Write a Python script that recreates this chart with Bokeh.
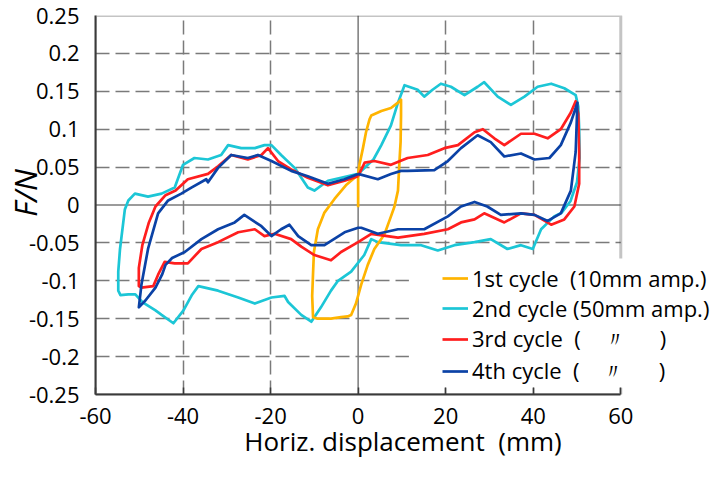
from bokeh.plotting import figure
from bokeh.models import (Range1d, FixedTicker, Span, Legend, LegendItem, BoxAnnotation)
from bokeh.embed import file_html
from bokeh.resources import INLINE

# ---------------- data ----------------
x_ticks = [-60, -40, -20, 0, 20, 40, 60]
x_tick_labels = ["-60", "-40", "-20", "0", "20", "40", "60"]
y_ticks = [0.25, 0.2, 0.15, 0.1, 0.05, 0, -0.05, -0.1, -0.15, -0.2, -0.25]
y_tick_labels = ["0.25", "0.2", "0.15", "0.1", "0.05", "0", "-0.05", "-0.1", "-0.15", "-0.2", "-0.25"]
x_grid_dashed = [-40, -20, 20, 40]
y_grid_dashed = [-0.2, -0.15, -0.1, -0.05, 0.05, 0.1, 0.15, 0.2]

series_names = ["1st cycle\u00a0\u00a0(10mm amp.)",
                "2nd cycle (50mm amp.)",
                "3rd cycle\u00a0\u00a0(\u00a0\u00a0\u00a0\u00a0\u3003\u00a0\u00a0\u00a0\u00a0\u00a0\u00a0)",
                "4th cycle\u00a0\u00a0(\u00a0\u00a0\u00a0\u00a0\u3003\u00a0\u00a0\u00a0\u00a0\u00a0\u00a0)"]

c1_x = [0, 0, 0.3, 1.1, 1.8, 2.6, 3.0, 5.3, 7.5, 9.1, 9.8, 9.8, 9.7, 9.4, 9.1, 8.3, 7.5, 6.0,
        3.7, 2.2, 0.7, -0.5, -1.6, -2.4, -3.9, -6.2, -9.2, -10.3, -10.5, -10.3, -10.1, -9.2,
        -7.7, -5.4, -2.8, -0.8, 0]
c1_y = [-0.003, 0.041, 0.053, 0.075, 0.096, 0.113, 0.118, 0.124, 0.128, 0.135, 0.139, 0.118,
        0.083, 0.053, 0.019, -0.002, -0.015, -0.039, -0.058, -0.079, -0.105, -0.130, -0.145,
        -0.147, -0.148, -0.150, -0.150, -0.148, -0.120, -0.090, -0.062, -0.032, -0.010, 0.008,
        0.026, 0.036, 0.040]

c2_x = [0, 2.2, 3.5, 5.3, 7.5, 9.1, 10.6, 13.6, 15.1, 17.0, 18.9, 21.2, 24.3, 27.3, 28.8, 31.9,
        34.9, 38.0, 41.0, 44.1, 47.1, 49.7, 50.3, 50.5, 50.6, 50.0, 48.5, 46.5, 44.8, 41.8, 39.9,
        37.2, 34.1, 30.3, 26.6, 22.0, 18.2, 14.4, 9.8, 4.5, 3.0, 1.4, -1.6, -4.6, -6.2, -8.5,
        -10.7, -13.0, -16.0, -16.8, -19.8, -23.6, -27.4, -32.0, -36.5, -37.9, -39.9, -42.2,
        -44.9, -46.3, -49.3, -50.9, -52.5, -54.3, -54.8, -54.8, -54.4, -53.3, -52.5, -51.0,
        -49.5, -48.0, -44.9, -41.9, -40.0, -37.4, -34.3, -31.3, -29.7, -26.7, -23.6, -21.4,
        -19.8, -17.6, -14.5, -11.5, -10.0, -6.9, -3.9, 0]
c2_y = [0.041, 0.053, 0.060, 0.079, 0.105, 0.135, 0.158, 0.152, 0.143, 0.152, 0.160, 0.156,
        0.145, 0.156, 0.162, 0.143, 0.132, 0.143, 0.156, 0.160, 0.154, 0.145, 0.130, 0.100,
        0.062, 0.030, 0.005, -0.010, -0.015, -0.032, -0.058, -0.053, -0.058, -0.045, -0.049,
        -0.053, -0.060, -0.053, -0.053, -0.049, -0.045, -0.066, -0.088, -0.100, -0.113, -0.135,
        -0.154, -0.145, -0.128, -0.120, -0.122, -0.130, -0.122, -0.113, -0.107, -0.118, -0.139,
        -0.156, -0.145, -0.139, -0.128, -0.118, -0.118, -0.119, -0.113, -0.088, -0.058, -0.006,
        0.006, 0.015, 0.013, 0.011, 0.015, 0.023, 0.053, 0.062, 0.060, 0.066, 0.079, 0.075,
        0.075, 0.079, 0.079, 0.066, 0.049, 0.023, 0.019, 0.032, 0.036, 0.041]

c3_x = [0, 1.5, 3.7, 7.5, 11.3, 15.9, 19.7, 22.8, 26.6, 28.5, 31.1, 33.4, 37.2, 40.3, 43.3, 46.3,
        48.6, 49.7, 50.3, 50.5, 50.5, 49.4, 47.1, 44.1, 40.3, 37.2, 33.4, 28.8, 26.6, 23.5, 20.5,
        15.1, 9.1, 3.0, 0, -3.9, -6.2, -10.0, -13.0, -15.3, -19.1, -21.4, -23.6, -27.4, -32.0,
        -35.8, -38.9, -41.9, -44.2, -45.7, -46.8, -49.5, -50.1, -50.1, -49.3, -47.8, -46.3,
        -44.0, -41.7, -38.9, -34.3, -32.0, -29.0, -25.2, -22.1, -20.6, -18.3, -15.3, -11.5,
        -6.9, -3.1, 0]
c3_y = [0.038, 0.056, 0.058, 0.053, 0.062, 0.066, 0.075, 0.079, 0.096, 0.100, 0.088, 0.079,
        0.094, 0.094, 0.088, 0.100, 0.122, 0.137, 0.120, 0.070, 0.028, -0.002, -0.019, -0.026,
        -0.013, -0.011, -0.023, -0.011, -0.019, -0.023, -0.032, -0.038, -0.043, -0.038, -0.049,
        -0.062, -0.073, -0.066, -0.055, -0.045, -0.038, -0.041, -0.032, -0.036, -0.049, -0.058,
        -0.077, -0.077, -0.075, -0.092, -0.107, -0.109, -0.107, -0.083, -0.053, -0.023, -0.002,
        0.013, 0.019, 0.034, 0.041, 0.051, 0.066, 0.060, 0.066, 0.075, 0.058, 0.047, 0.036,
        0.026, 0.032, 0.038]

c4_x = [0, 4.5, 7.5, 9.8, 11.3, 17.4, 20.5, 23.5, 27.3, 30.3, 33.4, 37.2, 40.3, 43.7, 46.3, 48.6,
        50.1, 49.7, 48.6, 46.3, 43.3, 40.3, 37.2, 32.6, 29.5, 26.6, 23.5, 20.5, 15.1, 9.1, 4.5,
        0.7, 0, -3.1, -7.7, -10.7, -13.7, -15.7, -17.6, -19.8, -22.1, -26.0, -28.2, -32.0,
        -35.8, -39.6, -42.5, -44.0, -44.8, -46.3, -48.6, -50.1, -49.5, -48.0, -45.7, -43.4,
        -40.4, -38.1, -34.7, -34.3, -32.0, -29.0, -25.2, -22.9, -19.8, -15.3, -11.5, -6.9,
        -3.1, 0]
c4_y = [0.041, 0.034, 0.041, 0.045, 0.045, 0.046, 0.058, 0.075, 0.092, 0.083, 0.064, 0.068,
        0.060, 0.062, 0.079, 0.109, 0.135, 0.070, 0.019, -0.011, -0.021, -0.013, -0.011, -0.013,
        -0.002, 0.004, -0.002, -0.015, -0.032, -0.032, -0.038, -0.030, -0.030, -0.036, -0.053,
        -0.053, -0.041, -0.026, -0.032, -0.041, -0.028, -0.013, -0.023, -0.032, -0.045, -0.062,
        -0.070, -0.079, -0.092, -0.109, -0.126, -0.135, -0.105, -0.058, -0.011, 0.006, 0.015,
        0.023, 0.034, 0.030, 0.049, 0.066, 0.062, 0.066, 0.058, 0.045, 0.038, 0.028, 0.034,
        0.041]

colors = ["#FFB400", "#1CC6D6", "#FF1E1E", "#0B42A6"]

# ---------------- figure ----------------
FONT = "Open Sans"
X_MIN, X_MAX = -60, 60
X_VIEW_END = 80.5      # frame extends right so the legend text is not clipped
Y_MIN, Y_MAX = -0.25, 0.25
frame_col = "#3a3a3a"
grid_color = "#7a7a7a"

p = figure(width=710, height=461, output_backend="svg", toolbar_location=None,
           x_range=Range1d(X_MIN, X_VIEW_END), y_range=Range1d(Y_MIN, Y_MAX),
           min_border_left=94, min_border_right=0, min_border_top=15, min_border_bottom=66)
p.background_fill_color = "white"
p.border_fill_color = "white"
p.outline_line_color = None

# grid
p.xgrid.ticker = FixedTicker(ticks=x_grid_dashed)
p.ygrid.ticker = FixedTicker(ticks=y_grid_dashed)
for g in (p.xgrid, p.ygrid):
    g.grid_line_color = grid_color
    g.grid_line_width = 1.5
    g.grid_line_dash = "14 6"
p.add_layout(Span(location=0, dimension="width", line_color=grid_color, line_width=1.5, level="underlay"))
p.add_layout(Span(location=0, dimension="height", line_color=grid_color, line_width=1.5, level="underlay"))
# blank area right of the plot box
p.add_layout(BoxAnnotation(left=X_MAX, fill_color="white", fill_alpha=1.0, line_alpha=0, level="underlay"))
# plot box
p.add_layout(BoxAnnotation(left=X_MIN, right=X_MAX, top=Y_MAX, bottom=Y_MIN, fill_alpha=0,
                           line_color=frame_col, line_width=3, level="underlay"))
# legend background
p.add_layout(BoxAnnotation(left=11.6, top=-0.0705, bottom=-0.241,
                           fill_color="white", fill_alpha=1.0, line_alpha=0, level="underlay"))

# axes
p.xaxis.ticker = FixedTicker(ticks=x_ticks)
p.xaxis.major_label_overrides = {t: l for t, l in zip(x_ticks, x_tick_labels)}
p.xaxis.bounds = (X_MIN, X_MAX)
p.yaxis.ticker = FixedTicker(ticks=y_ticks)
p.yaxis.major_label_overrides = {t: l for t, l in zip(y_ticks, y_tick_labels)}
for ax in (p.xaxis, p.yaxis):
    ax.axis_line_color = frame_col
    ax.axis_line_width = 2
    ax.major_tick_line_color = frame_col
    ax.major_tick_line_width = 1.5
    ax.minor_tick_line_color = None
    ax.major_label_text_font = FONT
    ax.major_label_text_font_size = "22px"
    ax.major_label_text_color = "black"
    ax.axis_label_text_font = FONT
    ax.axis_label_text_color = "black"
p.xaxis.major_tick_in = 7
p.xaxis.major_tick_out = 0
p.yaxis.major_tick_in = 0
p.yaxis.major_tick_out = 0
p.xaxis.major_label_standoff = 13
p.yaxis.major_label_standoff = 16
p.xaxis.axis_label = "Horiz. displacement\u00a0\u00a0(mm)"
p.xaxis.axis_label_text_font_size = "26px"
p.xaxis.axis_label_text_font_style = "normal"
p.xaxis.axis_label_standoff = -4
p.yaxis.axis_label = "\u00a0\u00a0\u00a0F/N"
p.yaxis.axis_label_text_font_size = "31px"
p.yaxis.axis_label_text_font_style = "italic"
p.yaxis.axis_label_standoff = -20

# curves
xs = [c1_x, c2_x, c3_x, c4_x]
ys = [c1_y, c2_y, c3_y, c4_y]
renderers = {}
for i in [1, 0, 2, 3]:
    renderers[i] = p.line(xs[i], ys[i], line_color=colors[i], line_width=2.7, line_join="round")

legend = Legend(items=[LegendItem(label=series_names[i], renderers=[renderers[i]]) for i in range(4)],
                location=(347, 7), padding=0, margin=0, spacing=0,
                label_height=30, glyph_height=30, glyph_width=26, label_standoff=4,
                label_text_font=FONT, label_text_font_size="22px", label_text_color="black",
                background_fill_alpha=0, border_line_alpha=0)
p.add_layout(legend, "center")

open("out.html", "w").write(file_html(p, INLINE))
